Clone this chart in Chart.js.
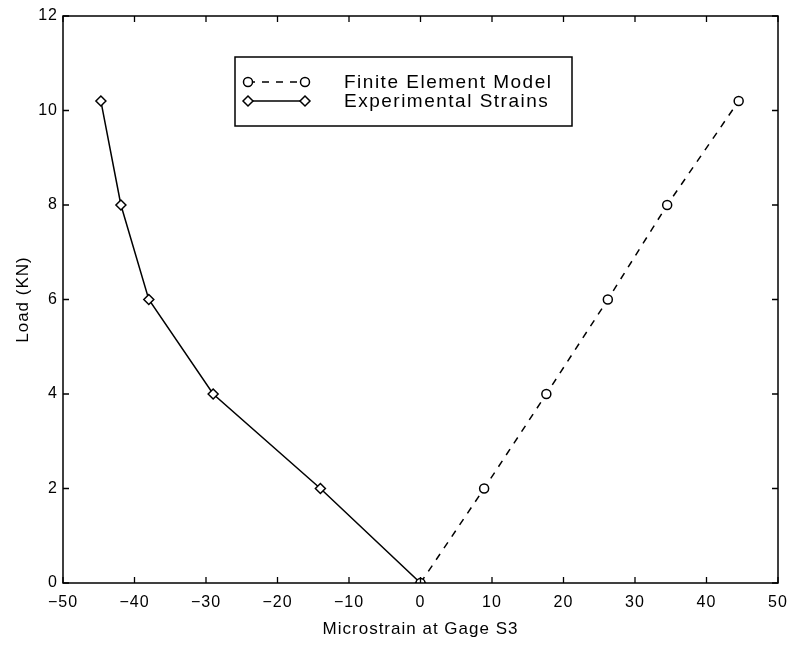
<!DOCTYPE html>
<html>
<head>
<meta charset="utf-8">
<script src="https://cdn.jsdelivr.net/npm/chart.js@4.4.1/dist/chart.umd.min.js"></script>
<style>
	html, body { margin: 0; padding: 0; background: #fff; }
	#wrap { width: 794px; height: 646px; position: relative; }
</style>
</head>
<body>
<div id="wrap"><canvas id="strainChart"></canvas></div>
<script>
// load steps (KN) shared by both series
const loads = [0, 2, 4, 6, 8, 10.2];
// microstrain
const femStrain = [0, 8.9, 17.6, 26.2, 34.5, 44.5];
const expStrain = [0, -14.0, -29.0, -38.0, -41.9, -44.7];

const xTicks = [-50, -40, -30, -20, -10, 0, 10, 20, 30, 40, 50];
const yTicks = [0, 2, 4, 6, 8, 10, 12];

const seriesNames = ['Finite Element Model', 'Experimental Strains'];

function toPoints(xs, ys) {
	let pts = [];
	for (let i = 0; i < xs.length; i++) {
		pts.push({ x: xs[i], y: ys[i] });
	}
	return pts;
}

const fontFam = '"Liberation Sans", Arial, Helvetica, sans-serif';

// the scanned helvetica is wide, so space the letters a bit
const spacing = {
	id: 'spacing',
	beforeDraw(chart) {
		chart.ctx.letterSpacing = '1px';
	}
};

// matlab style box with ticks pointing inward on all sides
const boxTicks = {
	id: 'boxTicks',
	afterDraw(chart) {
		const c = chart.ctx;
		const a = chart.chartArea;
		const xs = chart.scales.x;
		const ys = chart.scales.y;
		c.save();
		c.strokeStyle = '#000';
		c.lineWidth = 1.5;
		c.strokeRect(a.left, a.top, a.right - a.left, a.bottom - a.top);
		c.lineWidth = 1.3;
		c.beginPath();
		xTicks.forEach(function (v) {
			const px = xs.getPixelForValue(v);
			c.moveTo(px, a.bottom); c.lineTo(px, a.bottom - 6);
			c.moveTo(px, a.top); c.lineTo(px, a.top + 6);
		});
		yTicks.forEach(function (v) {
			const py = ys.getPixelForValue(v);
			c.moveTo(a.left, py); c.lineTo(a.left + 6, py);
			c.moveTo(a.right, py); c.lineTo(a.right - 6, py);
		});
		c.stroke();
		c.restore();
	}
};

// legend box inside the plot, like the original
const insideLegend = {
	id: 'insideLegend',
	afterDraw(chart) {
		const c = chart.ctx;
		const bx = 235, by = 57, bw = 337, bh = 69;
		c.save();
		c.fillStyle = '#fff';
		c.fillRect(bx, by, bw, bh);
		c.strokeStyle = '#000';
		c.lineWidth = 1.5;
		c.strokeRect(bx, by, bw, bh);
		const rows = [82, 101];
		chart.data.datasets.forEach(function (ds, i) {
			const y = rows[i];
			c.strokeStyle = '#000';
			c.lineWidth = ds.borderWidth;
			c.setLineDash(ds.borderDash || []);
			c.beginPath();
			c.moveTo(248, y); c.lineTo(305, y);
			c.stroke();
			c.setLineDash([]);
			[248, 305].forEach(function (mx) {
				c.fillStyle = '#fff';
				c.strokeStyle = '#000';
				c.lineWidth = ds.pointBorderWidth;
				Chart.helpers.drawPoint(c, {
					pointStyle: ds.pointStyle,
					radius: ds.pointRadius,
					borderWidth: ds.pointBorderWidth
				}, mx, y);
			});
			c.fillStyle = '#000';
			c.font = '19px ' + fontFam;
			c.letterSpacing = '1.5px';
			c.textBaseline = 'middle';
			c.fillText(seriesNames[i], 344, y + 1);
		});
		c.restore();
	}
};

const ctx = document.getElementById('strainChart').getContext('2d');

const strainChart = new Chart(ctx, {
	type: 'scatter',
	data: {
		datasets: [
			{
				label: seriesNames[0],
				data: toPoints(femStrain, loads),
				showLine: true,
				borderColor: '#000',
				borderWidth: 1.5,
				borderDash: [7, 7],
				pointStyle: 'circle',
				pointRadius: 4.5,
				pointBorderWidth: 1.5,
				pointBackgroundColor: '#fff',
				pointBorderColor: '#000',
				fill: false,
			},
			{
				label: seriesNames[1],
				data: toPoints(expStrain, loads),
				showLine: true,
				borderColor: '#000',
				borderWidth: 1.5,
				pointStyle: 'rectRot',
				pointRadius: 5,
				pointBorderWidth: 1.5,
				pointBackgroundColor: '#fff',
				pointBorderColor: '#000',
				fill: false,
			},
		],
	},
	options: {
		responsive: true,
		maintainAspectRatio: false,
		animation: false,
		layout: { padding: { left: 0, right: 16, top: 16, bottom: 0 } },
		plugins: {
			legend: { display: false },
			tooltip: { enabled: false },
		},
		scales: {
			x: {
				type: 'linear',
				min: -50,
				max: 50,
				afterBuildTicks: function (scale) {
					scale.ticks = xTicks.map(function (v) { return { value: v }; });
				},
				grid: { display: false, drawTicks: false },
				border: { display: false },
				ticks: {
					color: '#000',
					padding: 10,
					font: { family: fontFam, size: 16 },
					maxRotation: 0,
					callback: function (v) { return v < 0 ? '\u2212' + Math.abs(v) : String(v); },
				},
				title: {
					display: true,
					text: 'Microstrain at Gage S3',
					color: '#000',
					font: { family: fontFam, size: 17 },
					padding: { top: 2, bottom: 6 },
				},
				afterFit: function (scale) {
					scale.height = 63;
					scale.paddingLeft = 0;
					scale.paddingRight = 0;
				},
			},
			y: {
				type: 'linear',
				min: 0,
				max: 12,
				afterBuildTicks: function (scale) {
					scale.ticks = yTicks.map(function (v) { return { value: v }; });
				},
				grid: { display: false, drawTicks: false },
				border: { display: false },
				ticks: {
					color: '#000',
					padding: 5,
					font: { family: fontFam, size: 16 },
				},
				title: {
					display: true,
					text: 'Load (KN)',
					color: '#000',
					font: { family: fontFam, size: 17 },
					padding: { top: 13, bottom: 0 },
				},
				afterFit: function (scale) {
					scale.width = 63;
					scale.paddingTop = 0;
					scale.paddingBottom = 0;
				},
			},
		},
	},
	plugins: [spacing, boxTicks, insideLegend],
});
</script>
</body>
</html>
